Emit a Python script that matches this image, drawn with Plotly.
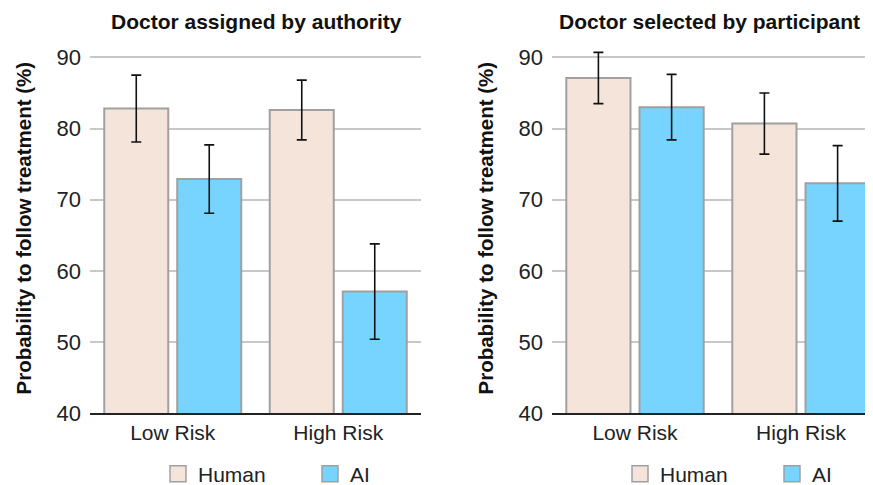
import plotly.graph_objects as go

categories = ["Low Risk", "High Risk"]
series = ["Human", "AI"]
panel_titles = ["Doctor assigned by authority", "Doctor selected by participant"]
y_title = "Probability to follow treatment (%)"
y_ticks = [40, 50, 60, 70, 80, 90]

# Panel 1: doctor assigned by authority
assigned_human = [82.8, 82.6]
assigned_human_err = [4.7, 4.2]
assigned_ai = [72.9, 57.1]
assigned_ai_err = [4.8, 6.7]

# Panel 2: doctor selected by participant
selected_human = [87.1, 80.7]
selected_human_err = [3.6, 4.3]
selected_ai = [83.0, 72.3]
selected_ai_err = [4.6, 5.3]

colors = {"Human": "#f5e4da", "AI": "#76d4fe"}
border = "#a0a0a0"
OFF = 8                      # page body margin
W, H = 873 - OFF, 485 - OFF
FONT = "Liberation Sans, Arial, Helvetica, sans-serif"


def fx(px):
    return (px - OFF) / W


def fy(py):
    return 1 - (py - OFF) / H


panels = [
    (assigned_human, assigned_human_err, assigned_ai, assigned_ai_err),
    (selected_human, selected_human_err, selected_ai, selected_ai_err),
]

fig = go.Figure()
for i, (hv, he, av, ae) in enumerate(panels):
    xa = "x" if i == 0 else "x2"
    ya = "y" if i == 0 else "y2"
    for name, vals, errs in [("Human", hv, he), ("AI", av, ae)]:
        fig.add_trace(go.Bar(
            x=categories, y=vals, name=name, xaxis=xa, yaxis=ya,
            marker=dict(color=colors[name], line=dict(color=border, width=2)),
            error_y=dict(type="data", array=errs, visible=True, color="#111111",
                         thickness=1.6, width=5),
            showlegend=False, offsetgroup=name,
        ))
    # legend entries
    for name in series:
        fig.add_trace(go.Scatter(
            x=[None], y=[None], mode="markers", name=name, xaxis=xa, yaxis=ya,
            marker=dict(symbol="square", size=16, color=colors[name],
                        line=dict(color=border, width=1.5)),
            legend="legend" if i == 0 else "legend2",
        ))

axis_common = dict(
    showgrid=False, showline=True, linecolor="#222222", linewidth=1.6,
    ticks="", tickfont=dict(size=21, color="#222222", family=FONT),
    fixedrange=True, type="category", automargin=False,
)
yaxis_common = dict(
    range=[40, 92], tickvals=y_ticks, showgrid=True, gridcolor="#c8c8c8",
    gridwidth=1.5, zeroline=False, showline=False, ticks="",
    tickfont=dict(size=22, color="#222222", family=FONT),
    ticklabelstandoff=8, automargin=False,
    title=dict(text=y_title, font=dict(size=20.5, color="#111111", family=FONT, weight="bold"),
               standoff=19),
    domain=[fy(413.3), fy(43.1)],
)

legend_common = dict(
    orientation="h", xanchor="left", y=fy(474), yanchor="middle",
    font=dict(size=21, family=FONT, color="#222222"), itemsizing="trace",
    entrywidth=107, entrywidthmode="pixels", bgcolor="rgba(0,0,0,0)",
)

fig.update_layout(
    template="none",
    width=W, height=H,
    margin=dict(l=0, r=0, t=0, b=0, autoexpand=False),
    paper_bgcolor="white", plot_bgcolor="white",
    barmode="group", bargap=0.118, bargroupgap=0.123,
    font=dict(family=FONT, color="#222222"),
    xaxis=dict(domain=[fx(90), fx(421)], range=[-0.5, 1.5], **axis_common),
    xaxis2=dict(domain=[fx(552), 1.0], range=[-0.5, 1.4337], **axis_common),
    yaxis=dict(anchor="x", **yaxis_common),
    yaxis2=dict(anchor="x2", **yaxis_common),
    legend=dict(x=fx(158), **legend_common),
    legend2=dict(x=fx(620), **legend_common),
    annotations=[
        dict(text=panel_titles[0], xref="paper", yref="paper", x=fx(256.5),
             y=fy(22), xanchor="center", yanchor="middle", showarrow=False,
             font=dict(size=21, family=FONT, color="#111111", weight="bold")),
        dict(text=panel_titles[1], xref="paper", yref="paper", x=fx(709),
             y=fy(22), xanchor="center", yanchor="middle", showarrow=False,
             font=dict(size=21, family=FONT, color="#111111", weight="bold")),
    ],
)

fig.write_html("out.html")
